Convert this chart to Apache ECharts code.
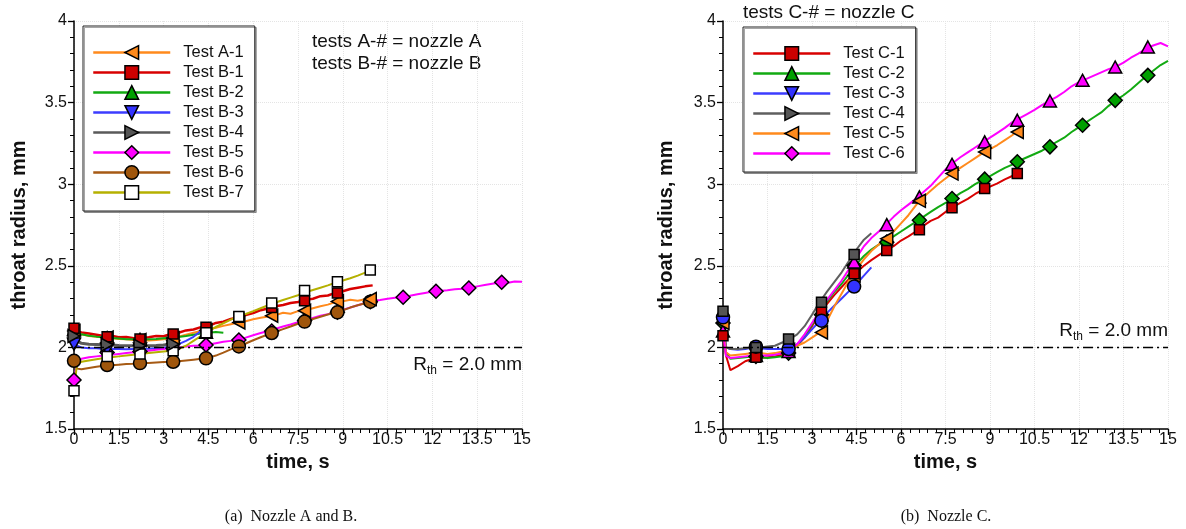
<!DOCTYPE html>
<html>
<head>
<meta charset="utf-8">
<script src="https://cdn.jsdelivr.net/npm/echarts@6/dist/echarts.min.js"></script>
<style>
  html, body { margin: 0; padding: 0; background: #fff; }
  #chart { width: 1186px; height: 529px; }
</style>
</head>
<body>
<div id="chart"></div>
<script>
// ---- sampling grid (s): start, an early sample, then every 0.25 s up to 15 s
const TIME = [0, 0.1];
for (let k = 1; k <= 60; k++) TIME.push(k * 0.25);

// times at which symbols are drawn along each trace (s)
const MARK_TIME = [0, 1.11, 2.21, 3.32, 4.42, 5.52, 6.62, 7.72, 8.82, 9.92, 11.02, 12.12, 13.22, 14.32];

// nozzle threshold radius (mm)
const RTH = 2.0;

// axis ticks
const X_TICK = { min: 0, max: 15, step: 1.5 };
const Y_TICK = { min: 1.5, max: 4, step: 0.5 };

// ---- nozzles A and B : throat radius (mm) on TIME grid
const A1 = [2.10, 2.09, 2.08, 2.07, 2.065, 2.06, 2.058, 2.052, 2.05, 2.046, 2.045, 2.042, 2.046, 2.05, 2.056, 2.066, 2.078, 2.09, 2.10, 2.112, 2.12, 2.132, 2.142, 2.152, 2.16, 2.172, 2.182, 2.19, 2.198, 2.212, 2.206, 2.222, 2.228, 2.24, 2.252, 2.262, 2.278, 2.282, 2.292, 2.286, 2.295, 2.305];
const B1 = [2.12, 2.10, 2.092, 2.085, 2.078, 2.07, 2.072, 2.062, 2.064, 2.056, 2.058, 2.062, 2.07, 2.068, 2.082, 2.09, 2.104, 2.11, 2.124, 2.13, 2.15, 2.158, 2.174, 2.184, 2.198, 2.21, 2.228, 2.238, 2.252, 2.26, 2.272, 2.278, 2.292, 2.298, 2.314, 2.318, 2.334, 2.344, 2.358, 2.366, 2.374, 2.38];
const B2 = [2.11, 2.09, 2.08, 2.072, 2.066, 2.062, 2.058, 2.055, 2.05, 2.05, 2.048, 2.05, 2.052, 2.056, 2.06, 2.064, 2.07, 2.078, 2.085, 2.09, 2.095, 2.09];
const B3 = [2.02, 2.01, 2.0, 1.995, 1.995, 1.99, 1.992, 1.99, 1.988, 1.99, 1.99, 1.992, 1.995, 1.998, 2.005, 2.02, 2.04, 2.065, 2.10];
const B4 = [2.07, 2.04, 2.025, 2.02, 2.018, 2.016, 2.015, 2.012, 2.01, 2.01, 2.01, 2.01, 2.012, 2.015, 2.02, 2.03];
const B5 = [1.80, 1.90, 1.93, 1.94, 1.945, 1.95, 1.955, 1.96, 1.965, 1.97, 1.975, 1.98, 1.985, 1.99, 1.995, 2.0, 2.005, 2.01, 2.012, 2.018, 2.026, 2.034, 2.04, 2.046, 2.06, 2.074, 2.088, 2.10, 2.114, 2.128, 2.14, 2.154, 2.166, 2.18, 2.194, 2.204, 2.216, 2.23, 2.244, 2.258, 2.272, 2.284, 2.29, 2.298, 2.304, 2.31, 2.316, 2.326, 2.334, 2.342, 2.346, 2.35, 2.356, 2.36, 2.366, 2.374, 2.382, 2.39, 2.398, 2.394, 2.404, 2.402];
const B6 = [1.918, 1.87, 1.866, 1.874, 1.882, 1.888, 1.89, 1.894, 1.898, 1.90, 1.904, 1.905, 1.908, 1.91, 1.912, 1.915, 1.92, 1.925, 1.93, 1.936, 1.95, 1.968, 1.988, 2.005, 2.024, 2.044, 2.062, 2.08, 2.096, 2.112, 2.128, 2.145, 2.16, 2.174, 2.188, 2.202, 2.214, 2.228, 2.244, 2.258, 2.27, 2.28];
const B7 = [1.734, 1.90, 1.912, 1.92, 1.928, 1.935, 1.94, 1.945, 1.95, 1.955, 1.96, 1.965, 1.97, 1.975, 1.98, 1.99, 2.01, 2.04, 2.07, 2.10, 2.125, 2.148, 2.17, 2.19, 2.205, 2.222, 2.24, 2.258, 2.275, 2.29, 2.305, 2.32, 2.338, 2.352, 2.366, 2.38, 2.396, 2.41, 2.424, 2.44, 2.458, 2.475];

// symbol values on MARK_TIME
const A1_MARK = [2.10, 2.06, 2.045, 2.056, 2.105, 2.153, 2.194, 2.225, 2.282, 2.296];
const B1_MARK = [2.117, 2.065, 2.051, 2.082, 2.123, 2.184, 2.245, 2.286, 2.333];
const B2_MARK = [2.11, 2.06, 2.05, 2.06, 2.092];
const B3_MARK = [2.02, 1.99, 1.99, 2.005];
const B4_MARK = [2.07, 2.016, 2.01, 2.02];
const B5_MARK = [1.80, 1.969, 1.975, 1.995, 2.015, 2.045, 2.10, 2.165, 2.215, 2.28, 2.307, 2.344, 2.364, 2.399];
const B6_MARK = [1.918, 1.892, 1.904, 1.912, 1.933, 2.006, 2.088, 2.158, 2.215, 2.28];
const B7_MARK = [1.734, 1.945, 1.959, 1.98, 2.09, 2.19, 2.272, 2.348, 2.403, 2.475];

// ---- nozzle C : throat radius (mm) on TIME grid
const C1 = [2.08, 1.95, 1.86, 1.885, 1.915, 1.93, 1.935, 1.94, 1.945, 1.955, 1.975, 2.01, 2.06, 2.13, 2.205, 2.265, 2.32, 2.37, 2.42, 2.46, 2.50, 2.535, 2.565, 2.595, 2.62, 2.655, 2.68, 2.71, 2.745, 2.775, 2.795, 2.83, 2.86, 2.885, 2.91, 2.94, 2.965, 2.985, 3.005, 3.03, 3.05, 3.07];
const C2 = [2.15, 1.97, 1.93, 1.935, 1.94, 1.945, 1.94, 1.935, 1.94, 1.945, 1.965, 2.01, 2.07, 2.14, 2.22, 2.28, 2.34, 2.39, 2.45, 2.51, 2.56, 2.60, 2.63, 2.655, 2.68, 2.71, 2.74, 2.77, 2.80, 2.83, 2.86, 2.885, 2.915, 2.945, 2.97, 3.0, 3.025, 3.05, 3.075, 3.10, 3.12, 3.145, 3.165, 3.185, 3.205, 3.23, 3.26, 3.285, 3.32, 3.35, 3.38, 3.41, 3.44, 3.48, 3.515, 3.545, 3.58, 3.62, 3.66, 3.695, 3.73, 3.755];
const C3 = [2.19, 2.0, 1.99, 1.985, 1.99, 2.0, 1.995, 1.99, 1.99, 1.99, 1.995, 2.02, 2.06, 2.11, 2.16, 2.21, 2.255, 2.30, 2.345, 2.39, 2.44, 2.49];
const C4 = [2.22, 2.0, 1.99, 1.99, 1.995, 2.0, 2.0, 2.005, 2.01, 2.03, 2.05, 2.08, 2.13, 2.20, 2.275, 2.34, 2.40, 2.46, 2.53, 2.60, 2.66, 2.70];
const C5 = [2.15, 1.97, 1.95, 1.955, 1.96, 1.965, 1.965, 1.96, 1.965, 1.975, 1.99, 2.01, 2.03, 2.06, 2.09, 2.16, 2.25, 2.33, 2.41, 2.48, 2.54, 2.59, 2.63, 2.67, 2.71, 2.76, 2.81, 2.87, 2.92, 2.96, 3.0, 3.035, 3.07, 3.10, 3.13, 3.16, 3.19, 3.215, 3.24, 3.27, 3.30, 3.34];
const C6 = [2.10, 1.95, 1.935, 1.94, 1.945, 1.95, 1.95, 1.95, 1.955, 1.965, 1.985, 2.02, 2.08, 2.15, 2.22, 2.29, 2.35, 2.41, 2.48, 2.55, 2.62, 2.67, 2.71, 2.755, 2.80, 2.84, 2.875, 2.91, 2.95, 2.99, 3.04, 3.09, 3.13, 3.165, 3.195, 3.225, 3.255, 3.285, 3.315, 3.345, 3.38, 3.405, 3.43, 3.455, 3.485, 3.51, 3.535, 3.565, 3.60, 3.625, 3.645, 3.665, 3.685, 3.705, 3.72, 3.745, 3.775, 3.80, 3.83, 3.85, 3.865, 3.845];

const C1_MARK = [2.072, 1.94, 1.99, 2.215, 2.451, 2.594, 2.721, 2.855, 2.973, 3.065];
const C2_MARK = [2.15, 1.945, 1.965, 2.20, 2.502, 2.645, 2.779, 2.912, 3.031, 3.137, 3.229, 3.361, 3.514, 3.667];
const C3_MARK = [2.184, 2.004, 1.99, 2.164, 2.373];
const C4_MARK = [2.221, 2.0, 2.051, 2.277, 2.57];
const C5_MARK = [2.15, 1.965, 1.985, 2.092, 2.44, 2.666, 2.898, 3.065, 3.198, 3.32];
const C6_MARK = [2.10, 1.95, 1.975, 2.20, 2.523, 2.752, 2.922, 3.122, 3.259, 3.392, 3.51, 3.637, 3.718, 3.841];

// ---- styling
const SANS = '"Liberation Sans", Arial, Helvetica, sans-serif';
const SERIF = '"Liberation Serif", "Times New Roman", serif';
const SYM = {
  square: 'rect',
  circle: 'circle',
  diamond: 'diamond',
  up: 'path://M5,0L10,10L0,10Z',
  down: 'path://M0,0L10,0L5,10Z',
  left: 'path://M10,0L10,10L0,5Z',
  right: 'path://M0,0L0,10L10,5Z'
};
const SYM_SIZE = {
  square: [10, 10], circle: [13, 13], diamond: [14, 14],
  up: [13, 12], down: [13, 12], left: [12, 13], right: [12, 13]
};

// trace styling: values, legend symbol, line colour, fill colour, width
const TRACES_AB = [
  { name: 'Test A-1', y: A1, sym: 'left',    line: '#ff8a1c', fill: '#ff8a1c', w: 2 },
  { name: 'Test B-1', y: B1, sym: 'square',  line: '#d80000', fill: '#cc0000', w: 2.5 },
  { name: 'Test B-2', y: B2, sym: 'up',      line: '#12aa12', fill: '#00a000', w: 2 },
  { name: 'Test B-3', y: B3, sym: 'down',    line: '#3c3cff', fill: '#3333ff', w: 2 },
  { name: 'Test B-4', y: B4, sym: 'right',   line: '#5a5a5a', fill: '#555555', w: 3 },
  { name: 'Test B-5', y: B5, sym: 'diamond', line: '#ff00ff', fill: '#ff00ff', w: 2 },
  { name: 'Test B-6', y: B6, sym: 'circle',  line: '#a65a14', fill: '#a0560c', w: 2 },
  { name: 'Test B-7', y: B7, sym: 'square',  line: '#b5b000', fill: '#ffffff', w: 2 }
];
// symbols along the traces, listed bottom-most first
const MARKS_AB = [
  { y: B5_MARK, sym: 'diamond', fill: '#ff00ff' },
  { y: B6_MARK, sym: 'circle',  fill: '#a0560c' },
  { y: B3_MARK, sym: 'down',    fill: '#3333ff' },
  { y: B2_MARK, sym: 'up',      fill: '#00a000' },
  { y: A1_MARK, sym: 'left',    fill: '#ff8a1c' },
  { y: B1_MARK, sym: 'square',  fill: '#cc0000' },
  { y: B7_MARK, sym: 'square',  fill: '#ffffff' },
  { y: B4_MARK, sym: 'right',   fill: '#555555' }
];

const TRACES_C = [
  { name: 'Test C-1', y: C1, sym: 'square',  line: '#d80000', fill: '#cc0000', w: 2 },
  { name: 'Test C-2', y: C2, sym: 'up',      line: '#12aa12', fill: '#00a000', w: 2 },
  { name: 'Test C-3', y: C3, sym: 'down',    line: '#3c3cff', fill: '#3333ff', w: 2 },
  { name: 'Test C-4', y: C4, sym: 'right',   line: '#5f5f5f', fill: '#555555', w: 2 },
  { name: 'Test C-5', y: C5, sym: 'left',    line: '#ff8a1c', fill: '#ff8a1c', w: 2 },
  { name: 'Test C-6', y: C6, sym: 'diamond', line: '#ff00ff', fill: '#ff00ff', w: 2 }
];
const MARKS_C = [
  { y: C2_MARK, sym: 'diamond', fill: '#00a000' },
  { y: C6_MARK, sym: 'up',      fill: '#ff00ff' },
  { y: C5_MARK, sym: 'left',    fill: '#ff8a1c' },
  { y: C1_MARK, sym: 'square',  fill: '#cc0000' },
  { y: C3_MARK, sym: 'circle',  fill: '#3333ff' },
  { y: C4_MARK, sym: 'square',  fill: '#555555' }
];

function lineSeries(tr, gi) {
  return {
    type: 'line', name: tr.name, xAxisIndex: gi, yAxisIndex: gi,
    data: tr.y.map((v, i) => [TIME[i], v]),
    showSymbol: false, symbol: SYM[tr.sym], symbolSize: SYM_SIZE[tr.sym],
    lineStyle: { color: tr.line, width: tr.w },
    itemStyle: { color: tr.fill, borderColor: '#000', borderWidth: 1.5 },
    silent: true, z: 2, animation: false
  };
}
function markSeries(m, gi) {
  return {
    type: 'scatter', xAxisIndex: gi, yAxisIndex: gi,
    data: m.y.map((v, i) => [MARK_TIME[i], v]),
    symbol: SYM[m.sym], symbolSize: SYM_SIZE[m.sym],
    itemStyle: { color: m.fill, borderColor: '#000', borderWidth: 1.5, opacity: 1 },
    silent: true, z: 3, animation: false
  };
}
function thresholdSeries(gi, below) {
  return {
    type: 'line', xAxisIndex: gi, yAxisIndex: gi, data: [[X_TICK.min, RTH]],
    symbol: 'none', lineStyle: { opacity: 0 }, silent: true, z: 1, animation: false,
    markLine: {
      silent: true, symbol: 'none', animation: false,
      lineStyle: { color: '#000', width: 1.3, type: [10, 4, 2, 4] },
      data: [{ yAxis: RTH }],
      label: {
        show: true,
        position: below ? 'insideEndBottom' : 'insideEndTop',
        distance: [0, 5],
        formatter: '{a|R}{b|th}{a| = ' + RTH.toFixed(1) + ' mm}',
        rich: {
          a: { fontFamily: SANS, fontSize: 19, color: '#111', lineHeight: 24, verticalAlign: 'middle' },
          b: { fontFamily: SANS, fontSize: 12, color: '#111', lineHeight: 12, verticalAlign: 'bottom' }
        }
      }
    }
  };
}
function legendCfg(traces, left, top) {
  return {
    orient: 'vertical', left: left, top: top,
    data: traces.map(tr => ({
      name: tr.name,
      itemStyle: { color: tr.fill, borderColor: '#000', borderWidth: 1.5 },
      lineStyle: { color: tr.line, width: 2.5 }
    })),
    itemWidth: 77, itemHeight: 17, itemGap: 3,
    padding: [18, 11, 10, 9],
    backgroundColor: '#fff', borderColor: '#222', borderWidth: 1,
    shadowColor: 'rgba(0,0,0,0.35)', shadowOffsetX: 1.5, shadowOffsetY: 1.5, shadowBlur: 0,
    selectedMode: false,
    textStyle: { fontFamily: SANS, fontSize: 16.5, color: '#111', lineHeight: 16, padding: [0, 0, 0, 8] }
  };
}
function xAxisCfg(gi) {
  return {
    type: 'value', gridIndex: gi, min: X_TICK.min, max: X_TICK.max, interval: X_TICK.step,
    name: 'time, s', nameLocation: 'middle', nameGap: 23,
    nameTextStyle: { fontFamily: SANS, fontSize: 20, fontWeight: 'bold', color: '#111' },
    axisLine: { lineStyle: { color: '#000', width: 1.5 } },
    axisTick: { length: 6, lineStyle: { color: '#000', width: 1.3 } },
    minorTick: { show: true, splitNumber: 5, length: 4, lineStyle: { color: '#000', width: 1 } },
    axisLabel: { fontFamily: SANS, fontSize: 16, color: '#111', margin: 3 },
    splitLine: { show: true, lineStyle: { color: '#e4e4e4', type: 'dotted', width: 1 } }
  };
}
function yAxisCfg(gi, gap) {
  return {
    type: 'value', gridIndex: gi, min: Y_TICK.min, max: Y_TICK.max, interval: Y_TICK.step,
    name: 'throat radius, mm', nameLocation: 'middle', nameGap: gap,
    nameTextStyle: { fontFamily: SANS, fontSize: 20, fontWeight: 'bold', color: '#111' },
    axisLine: { show: true, lineStyle: { color: '#000', width: 1.5 } },
    axisTick: { show: true, length: 6, lineStyle: { color: '#000', width: 1.3 } },
    minorTick: { show: true, splitNumber: 5, length: 4, lineStyle: { color: '#000', width: 1 } },
    axisLabel: { fontFamily: SANS, fontSize: 16, color: '#111', margin: 7 },
    splitLine: { show: true, lineStyle: { color: '#e4e4e4', type: 'dotted', width: 1 } }
  };
}
function note(text, x, y, font, align) {
  return {
    type: 'text', x: x, y: y, silent: true,
    style: { text: text, font: font, fill: '#111', textAlign: align, textVerticalAlign: 'middle', align: align, verticalAlign: 'middle' }
  };
}

const chart = echarts.init(document.getElementById('chart'), null, { renderer: 'canvas' });
chart.setOption({
  animation: false,
  backgroundColor: '#fff',
  grid: [
    { left: 74, top: 21, width: 448, height: 408 },
    { left: 723, top: 21, width: 445, height: 408 }
  ],
  xAxis: [xAxisCfg(0), xAxisCfg(1)],
  yAxis: [yAxisCfg(0, 45), yAxisCfg(1, 47)],
  legend: [legendCfg(TRACES_AB, 83, 26), legendCfg(TRACES_C, 743, 27)],
  series: [
    thresholdSeries(0, true),
    thresholdSeries(1, false)
  ]
    .concat(TRACES_AB.map(tr => lineSeries(tr, 0)))
    .concat(MARKS_AB.map(m => markSeries(m, 0)))
    .concat(TRACES_C.map(tr => lineSeries(tr, 1)))
    .concat(MARKS_C.map(m => markSeries(m, 1))),
  graphic: [
    note('tests A-# = nozzle A', 312, 42, '19px ' + SANS, 'left'),
    note('tests B-# = nozzle B', 312, 64, '19px ' + SANS, 'left'),
    note('tests C-# = nozzle C', 743, 13, '19px ' + SANS, 'left'),
    note('(a)  Nozzle A and B.', 291, 517, '16px ' + SERIF, 'center'),
    note('(b)  Nozzle C.', 946, 517, '16px ' + SERIF, 'center')
  ]
});
</script>
</body>
</html>
